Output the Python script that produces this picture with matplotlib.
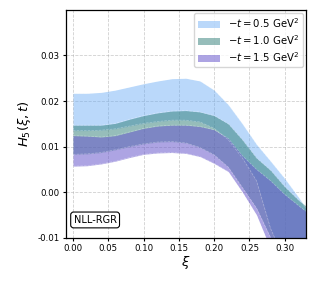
import matplotlib
matplotlib.use("Agg")
import matplotlib.pyplot as plt
import numpy as np

xi = [0.00, 0.02, 0.04, 0.06, 0.08, 0.10, 0.12, 0.14, 0.16, 0.18, 0.20, 0.22, 0.24, 0.26, 0.28, 0.30, 0.32, 0.33]

# -t = 0.5 GeV^2
upper_05 = [0.0217, 0.0217, 0.0219, 0.0224, 0.0231, 0.0238, 0.0244, 0.0249, 0.0250, 0.0244, 0.0224, 0.0192, 0.0150, 0.0105, 0.0068, 0.0030, -0.0012, -0.0035]
lower_05 = [0.0135, 0.0135, 0.0136, 0.0139, 0.0145, 0.0151, 0.0155, 0.0158, 0.0158, 0.0154, 0.0140, 0.0115, 0.0075, 0.0025, -0.0080, -0.0150, -0.0200, -0.0220]
# -t = 1.0 GeV^2
upper_10 = [0.0147, 0.0147, 0.0147, 0.0151, 0.0160, 0.0168, 0.0174, 0.0178, 0.0179, 0.0176, 0.0168, 0.0150, 0.0115, 0.0075, 0.0048, 0.0012, -0.0018, -0.0030]
lower_10 = [0.0083, 0.0084, 0.0087, 0.0093, 0.0100, 0.0106, 0.0110, 0.0111, 0.0108, 0.0098, 0.0082, 0.0055, 0.0010, -0.0035, -0.0100, -0.0165, -0.0220, -0.0240]
# -t = 1.5 GeV^2
upper_15 = [0.0124, 0.0123, 0.0121, 0.0124, 0.0132, 0.0140, 0.0145, 0.0147, 0.0147, 0.0144, 0.0137, 0.0118, 0.0080, 0.0050, 0.0025, -0.0005, -0.0030, -0.0042]
lower_15 = [0.0057, 0.0058, 0.0062, 0.0068, 0.0076, 0.0083, 0.0086, 0.0087, 0.0085, 0.0078, 0.0063, 0.0045, 0.0000, -0.0050, -0.0125, -0.0190, -0.0240, -0.0260]

labels = [r"$-t = 0.5$ GeV$^2$", r"$-t = 1.0$ GeV$^2$", r"$-t = 1.5$ GeV$^2$"]
colors = ["#66aaf5", "#2e7d76", "#6a5acd"]
alphas = [0.45, 0.5, 0.55]

x_ticks = [0.00, 0.05, 0.10, 0.15, 0.20, 0.25, 0.30]
y_ticks = [-0.01, 0.00, 0.01, 0.02, 0.03]

fig = plt.figure(figsize=(3.17, 2.82), dpi=100)
ax = fig.add_axes([0.208, 0.157, 0.757, 0.808])

bands = [(upper_05, lower_05), (upper_10, lower_10), (upper_15, lower_15)]
for (up, lo), lab, c, a in zip(bands, labels, colors, alphas):
    ax.fill_between(xi, lo, up, color=c, alpha=a, linewidth=0, label=lab)
    ax.plot(xi, up, color="white", lw=0.5, ls="--", alpha=0.35)
    ax.plot(xi, lo, color="white", lw=0.5, ls="--", alpha=0.35)

ax.set_xlim(-0.01, 0.33)
ax.set_ylim(-0.01, 0.04)
ax.set_xticks(x_ticks)
ax.set_yticks(y_ticks)
ax.set_xticklabels([f"{v:.2f}" for v in x_ticks])
ax.set_yticklabels([f"{v:.2f}" for v in y_ticks])
ax.tick_params(labelsize=6.2, length=2.5, width=0.8, pad=2)
ax.grid(True, ls="--", color="#b0b0b0", lw=0.6, alpha=0.6)
ax.set_axisbelow(True)
for s in ax.spines.values():
    s.set_linewidth(0.9)

ax.set_xlabel(r"$\xi$", fontsize=9.5, labelpad=1)
ax.set_ylabel(r"$H_5(\xi, t)$", fontsize=9.5, labelpad=3)

ax.legend(loc="upper right", fontsize=7.3, frameon=True, fancybox=True,
          borderaxespad=0.3, labelspacing=0.3, handlelength=2.2, borderpad=0.35)

ax.text(0.032, 0.078, "NLL-RGR", transform=ax.transAxes, ha="left", va="center",
        fontsize=7, bbox=dict(boxstyle="round,pad=0.3", fc="white", ec="black", lw=0.8))

fig.savefig("out.png", dpi=100)
